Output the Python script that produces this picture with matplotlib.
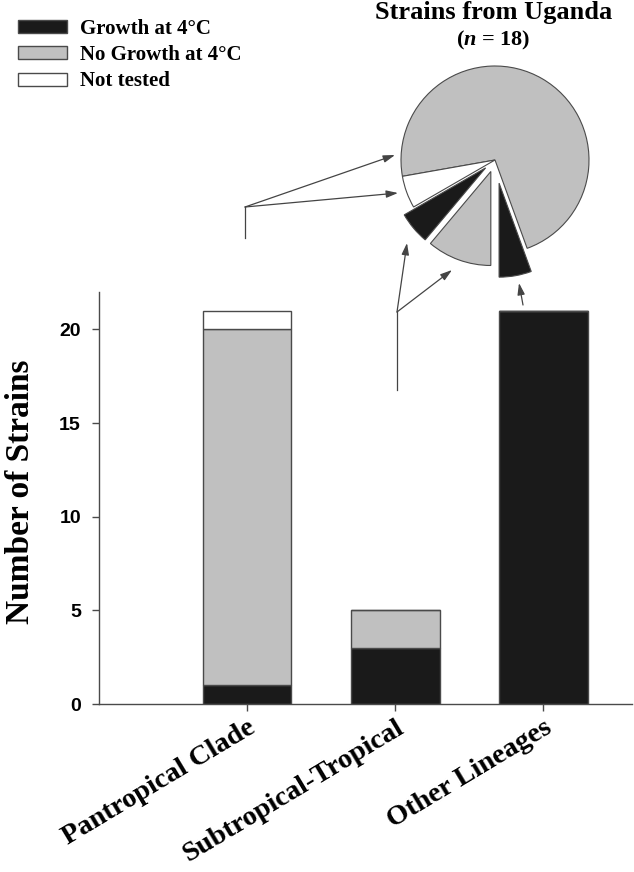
import matplotlib
matplotlib.use("Agg")
import matplotlib.pyplot as plt
from matplotlib.patches import FancyArrowPatch
from matplotlib.lines import Line2D

# Dados das barras
categorias = ["Pantropical Clade", "Subtropical-Tropical", "Other Lineages"]
crescimento = [1, 3, 21]
sem_crescimento = [19, 2, 0]
nao_testado = [1, 0, 0]

# Dados do gráfico de pizza (cepas de Uganda)
uganda_contagens = [13, 1, 1, 2, 1]
uganda_status = ["sem", "nao", "cresc", "sem", "cresc"]
uganda_explode = [0, 0, 0.13, 0.13, 0.25]

legenda = ["Growth at 4\u00b0C", "No Growth at 4\u00b0C", "Not tested"]
cores = {"cresc": "#1a1a1a", "sem": "#c0c0c0", "nao": "#ffffff"}
borda = "#4a4a4a"

plt.rcParams["mathtext.fontset"] = "custom"
plt.rcParams["mathtext.it"] = "Liberation Serif:italic:bold"
plt.rcParams["mathtext.rm"] = "Liberation Serif:bold"
serif = "Liberation Serif"
sans = "Liberation Sans"

W, H = 634, 872
fig = plt.figure(figsize=(W / 100, H / 100), dpi=100)


def px(x, y):
    # pixel (origem no topo) -> fração da figura
    return x / W, 1 - y / H


# Barras empilhadas
ax = fig.add_axes([99 / W, 1 - 704 / H, (632 - 99) / W, (704 - 292) / H])
pos = [1, 2, 3]
base2 = [a + b for a, b in zip(crescimento, sem_crescimento)]
b1 = ax.bar(pos, crescimento, 0.6, color=cores["cresc"], edgecolor=borda, linewidth=1)
b2 = ax.bar(pos, sem_crescimento, 0.6, bottom=crescimento, color=cores["sem"], edgecolor=borda, linewidth=1)
b3 = ax.bar(pos, nao_testado, 0.6, bottom=base2, color=cores["nao"], edgecolor=borda, linewidth=1)

ax.set_xlim(0, 3.6)
ax.set_ylim(0, 22)
ax.set_yticks([0, 5, 10, 15, 20])
ax.set_xticks(pos)
ax.set_xticklabels(categorias, rotation=31, ha="right", va="top", rotation_mode="anchor",
                   fontfamily=serif, fontweight="bold", fontsize=20.5)
for lab in ax.get_yticklabels():
    lab.set_fontfamily(sans)
    lab.set_fontweight("bold")
    lab.set_fontsize(14)
ax.tick_params(axis="y", length=5, width=1, color=borda, pad=8)
ax.tick_params(axis="x", length=5, width=1, color=borda, pad=3)
for s in ["top", "right"]:
    ax.spines[s].set_visible(False)
for s in ["left", "bottom"]:
    ax.spines[s].set_color(borda)
    ax.spines[s].set_linewidth(1)

ax.set_ylabel("Number of Strains", fontfamily=serif, fontweight="bold", fontsize=24)
ax.yaxis.set_label_coords(-0.118, 0.515)

# Legenda
fig.legend([b1, b2, b3], legenda, loc="upper left", bbox_to_anchor=px(18, 19),
           frameon=False, borderpad=0, borderaxespad=0, handlelength=2.35,
           handleheight=0.58, labelspacing=0.3, handletextpad=0.62,
           prop={"family": serif, "weight": "bold", "size": 15})

# Pizza
r = 94
axp = fig.add_axes([(495 - 1.17 * r) / W, 1 - (160 + 1.17 * r) / H, 2.34 * r / W, 2.34 * r / H])
fatias, _ = axp.pie(uganda_contagens, colors=[cores[s] for s in uganda_status],
                    explode=uganda_explode, startangle=-70, counterclock=True,
                    wedgeprops={"edgecolor": borda, "linewidth": 0.8})
axp.set_xlim(-1.17, 1.17)
axp.set_ylim(-1.17, 1.17)
axp.set_aspect("equal")
axp.axis("off")

fig.text(*px(494, 13), "Strains from Uganda", ha="center", va="center",
         fontfamily=serif, fontweight="bold", fontsize=19)
fig.text(*px(493, 40), "($n$ = 18)", ha="center", va="center",
         fontfamily=serif, fontweight="bold", fontsize=16)

# Setas ligando as barras às fatias
cor_seta = "#444444"


def linha(p0, p1):
    x0, y0 = px(*p0)
    x1, y1 = px(*p1)
    fig.add_artist(Line2D([x0, x1], [y0, y1], color=cor_seta, lw=0.9, transform=fig.transFigure))


def seta(p0, p1):
    fig.add_artist(FancyArrowPatch(px(*p0), px(*p1), transform=fig.transFigure,
                                   arrowstyle="-|>,head_length=0.7,head_width=0.22",
                                   mutation_scale=10, color=cor_seta, lw=0.9,
                                   shrinkA=0, shrinkB=0))


linha((245, 238), (245, 207))
seta((245, 207), (395, 155))
seta((245, 207), (398, 193))
linha((397, 390), (397, 312))
seta((397, 312), (407, 243))
seta((397, 312), (452, 270))
seta((523, 305), (519, 283))

fig.savefig("out.png", dpi=100)
